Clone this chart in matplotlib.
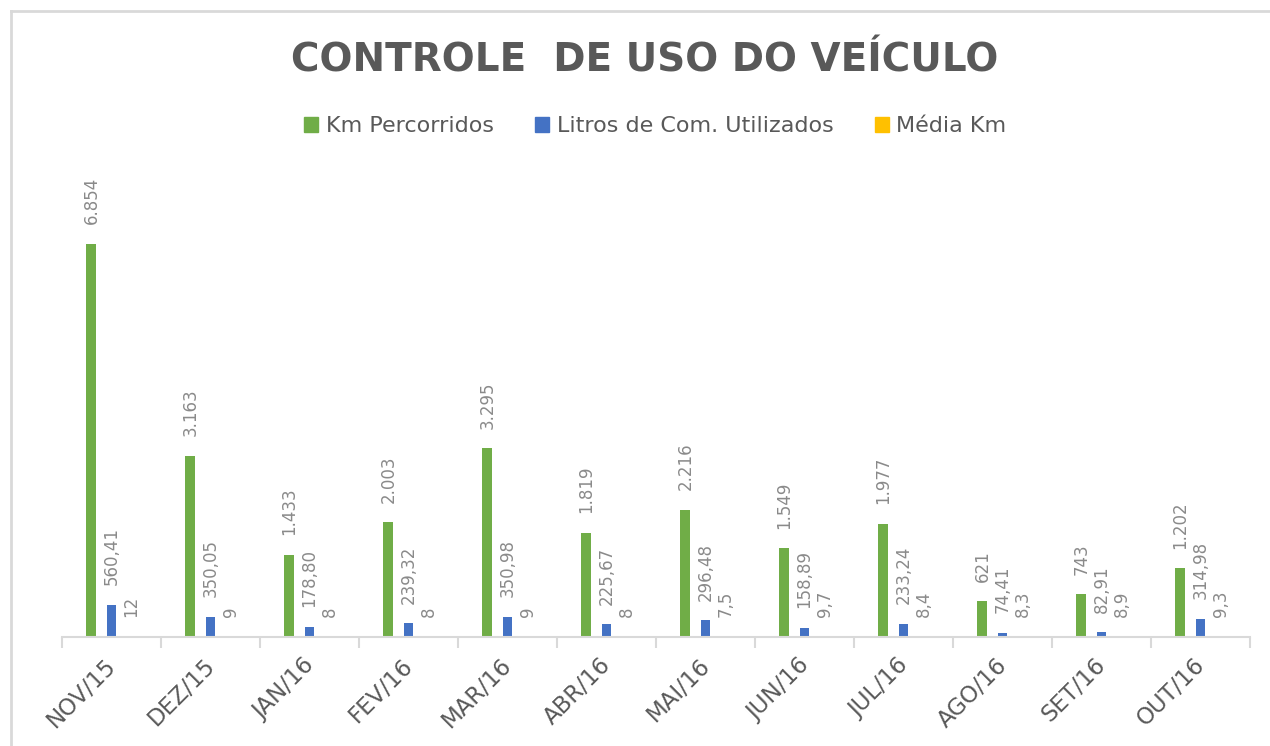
import matplotlib.pyplot as plt
import matplotlib.transforms as mtransforms
import numpy as np
from matplotlib.lines import Line2D
from matplotlib.patches import Patch

meses = ['NOV/15', 'DEZ/15', 'JAN/16', 'FEV/16', 'MAR/16', 'ABR/16',
         'MAI/16', 'JUN/16', 'JUL/16', 'AGO/16', 'SET/16', 'OUT/16']
km = [6854, 3163, 1433, 2003, 3295, 1819, 2216, 1549, 1977, 621, 743, 1202]
litros = [560.41, 350.05, 178.80, 239.32, 350.98, 225.67, 296.48, 158.89,
          233.24, 74.41, 82.91, 314.98]
media = [12, 9, 8, 8, 9, 8, 7.5, 9.7, 8.4, 8.3, 8.9, 9.3]


def fmt_int(v):
    return f'{v:,.0f}'.replace(',', '.')


def fmt_dec(v):
    return f'{v:.2f}'.replace('.', ',')


def fmt_media(v):
    return f'{v:g}'.replace('.', ',')


verde = '#70ad47'
azul = '#4472c4'
amarelo = '#ffc000'
cinza = '#595959'
rotulo = '#8a8a8a'

fig = plt.figure(figsize=(12.7, 7.46), dpi=100)
ax = fig.add_axes([62 / 1270, 1 - 637 / 746, 1188 / 1270, (637 - 178) / 746])

x = np.arange(len(meses))
w = 0.101
off = 0.2025
series = [(km, verde, -off, fmt_int), (litros, azul, 0, fmt_dec),
          (media, amarelo, off, fmt_media)]
for vals, cor, dx, f in series:
    ax.bar(x + dx, vals, width=w, color=cor)
    for xi, v in zip(x, vals):
        ax.annotate(f(v), (xi + dx, v), xytext=(0, 14), textcoords='offset points',
                    rotation=90, ha='center', va='bottom', color=rotulo, fontsize=12)

ax.set_xlim(-0.5, len(meses) - 0.5)
ax.set_ylim(0, 8000)
for s in ['top', 'right', 'left']:
    ax.spines[s].set_visible(False)
ax.spines['bottom'].set_color('#d9d9d9')
ax.spines['bottom'].set_linewidth(1.5)
ax.set_yticks([])
ax.set_xticks(x)
ax.set_xticklabels(meses, rotation=45, ha='right', va='top', rotation_mode='anchor',
                   color=cinza, fontsize=16.5)
ax.tick_params(axis='x', which='major', length=0, pad=12)
ax.set_xticks(np.arange(-0.5, len(meses)), minor=True)
ax.tick_params(axis='x', which='minor', length=8, width=1.5, color='#d9d9d9')
shift = mtransforms.ScaledTranslation(-7 / 100, 0, fig.dpi_scale_trans)
for lbl in ax.get_xticklabels():
    lbl.set_transform(lbl.get_transform() + shift)

fig.text(0.508, 0.919, 'CONTROLE  DE USO DO VEÍCULO', ha='center', va='center',
         fontsize=28, fontweight='bold', color=cinza)

handles = [Patch(color=verde, label='Km Percorridos'),
           Patch(color=azul, label='Litros de Com. Utilizados'),
           Patch(color=amarelo, label='Média Km')]
leg = fig.legend(handles=handles, loc='center', bbox_to_anchor=(0.516, 0.831), ncol=3,
                 frameon=False, fontsize=16, handlelength=0.63, handleheight=0.63,
                 handletextpad=0.35, columnspacing=1.85)
for t in leg.get_texts():
    t.set_color(cinza)

fig.add_artist(Line2D([11 / 1270, 11 / 1270], [0, 1 - 11 / 746], color='#d9d9d9', lw=2))
fig.add_artist(Line2D([11 / 1270, 1], [1 - 11 / 746, 1 - 11 / 746], color='#d9d9d9', lw=2))

fig.savefig('out.png', dpi=100)
